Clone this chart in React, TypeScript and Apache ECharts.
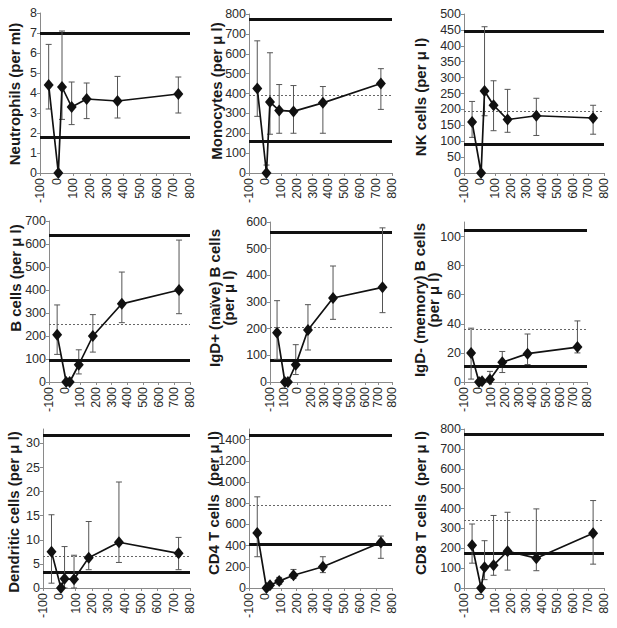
import React, { useEffect, useRef } from "react";
import * as echarts from "echarts";

// Days of sampling (x values)
const days = [-48, 10, 32, 90, 180, 365, 730];

const xTickLabels = ["-100", "0", "100", "200", "300", "400", "500", "600", "700", "800"];
const xTickLabelsIgdPlus = ["-100", "100", "0", "200", "300", "400", "500", "600", "700", "800"];

// Panel values
const neutroMean = [4.4, 0, 4.3, 3.3, 3.7, 3.6, 3.95];
const neutroLow = [3.2, 0, 2.68, 2.42, 2.72, 2.75, 3.0];
const neutroHigh = [6.43, 0, 7.1, 4.55, 4.5, 4.83, 4.8];
const neutroRef = [7.0, 1.8];

const monoMean = [425, 0, 357, 315, 310, 353, 450];
const monoLow = [285, 0, 195, 200, 200, 200, 320];
const monoHigh = [665, 40, 605, 445, 440, 435, 525];
const monoRef = [775, 160];
const monoDotted = 393;

const nkMean = [160, 0, 258, 213, 168, 180, 173];
const nkLow = [112, 0, 180, 133, 128, 118, 122];
const nkHigh = [225, 0, 460, 290, 263, 235, 213];
const nkRef = [447, 90];
const nkDotted = 193;

const bMean = [205, 0, 0, 75, 200, 340, 400];
const bLow = [120, 0, 0, 35, 130, 258, 297];
const bHigh = [335, 0, 0, 140, 293, 478, 617];
const bRef = [640, 95];
const bDotted = 253;

const igdPlusMean = [185, 0, 0, 65, 195, 315, 355];
const igdPlusLow = [85, 0, 0, 28, 120, 235, 260];
const igdPlusHigh = [305, 0, 0, 140, 290, 435, 578];
const igdPlusRef = [562, 80];
const igdPlusDotted = 205;

const igdMinusMean = [20, 0, 0.5, 1.8, 13.5, 19.5, 24];
const igdMinusLow = [2, 0, 0, 0, 6.5, 12, 20];
const igdMinusHigh = [37, 0, 0, 7.3, 21, 33, 42];
const igdMinusRef = [104, 11];
const igdMinusDotted = 36;

const dcMean = [7.5, 0, 1.9, 1.8, 6.3, 9.5, 7.2];
const dcLow = [1, 0, 0, 0, 3.8, 5.3, 3.8];
const dcHigh = [15.2, 0, 8.6, 6.8, 13.8, 22, 10.5];
const dcRef = [31.6, 3.2];
const dcDotted = 6.5;

const cd4Mean = [520, 0, 25, 65, 120, 200, 430];
const cd4Low = [295, 0, 0, 35, 90, 145, 280];
const cd4High = [860, 0, 40, 100, 175, 295, 490];
const cd4Ref = [1441, 414];
const cd4Dotted = 783;

const cd8Mean = [215, 0, 105, 115, 185, 150, 275];
const cd8Low = [125, 0, 42, 64, 90, 87, 120];
const cd8High = [322, 0, 238, 365, 381, 398, 440];
const cd8Ref = [775, 174];
const cd8Dotted = 341;

type Panel = {
  title: string;
  tx: number;
  ty: number;
  grid: { left: number; top: number; right: number; bottom: number };
  yMax: number;
  yInterval: number;
  mean: number[];
  low: number[];
  high: number[];
  ref: number[];
  dotted?: number;
  xLabels: string[];
};

const panels: Panel[] = [
  { title: "Neutrophils (per ml)", tx: 14.5, ty: 94, grid: { left: 40, top: 13, right: 190, bottom: 173 }, yMax: 8, yInterval: 1, mean: neutroMean, low: neutroLow, high: neutroHigh, ref: neutroRef, xLabels: xTickLabels },
  { title: "Monocytes (per μ l)", tx: 216, ty: 91, grid: { left: 249, top: 14, right: 392, bottom: 173 }, yMax: 800, yInterval: 100, mean: monoMean, low: monoLow, high: monoHigh, ref: monoRef, dotted: monoDotted, xLabels: xTickLabels },
  { title: "NK cells (per μ l)", tx: 420.5, ty: 97, grid: { left: 464, top: 14, right: 604, bottom: 173 }, yMax: 500, yInterval: 50, mean: nkMean, low: nkLow, high: nkHigh, ref: nkRef, dotted: nkDotted, xLabels: xTickLabels },
  { title: "B cells (per μ l)", tx: 15, ty: 278, grid: { left: 49, top: 221, right: 190, bottom: 382 }, yMax: 700, yInterval: 100, mean: bMean, low: bLow, high: bHigh, ref: bRef, dotted: bDotted, xLabels: xTickLabels },
  { title: "IgD+ (naïve) B cells\n(per μ l)", tx: 221.5, ty: 298, grid: { left: 270, top: 222, right: 392, bottom: 382 }, yMax: 600, yInterval: 100, mean: igdPlusMean, low: igdPlusLow, high: igdPlusHigh, ref: igdPlusRef, dotted: igdPlusDotted, xLabels: xTickLabelsIgdPlus },
  { title: "IgD- (memory) B cells\n(per μ l)", tx: 426, ty: 300, grid: { left: 464, top: 222, right: 587, bottom: 382 }, yMax: 110, yInterval: 20, mean: igdMinusMean, low: igdMinusLow, high: igdMinusHigh, ref: igdMinusRef, dotted: igdMinusDotted, xLabels: xTickLabels },
  { title: "Dendritic cells (per μ l)", tx: 13.5, ty: 512, grid: { left: 43, top: 429, right: 190, bottom: 588 }, yMax: 33, yInterval: 5, mean: dcMean, low: dcLow, high: dcHigh, ref: dcRef, dotted: dcDotted, xLabels: xTickLabels },
  { title: "CD4 T cells  (per μ l)", tx: 213.5, ty: 503, grid: { left: 249, top: 429, right: 392, bottom: 588 }, yMax: 1500, yInterval: 200, mean: cd4Mean, low: cd4Low, high: cd4High, ref: cd4Ref, dotted: cd4Dotted, xLabels: xTickLabels },
  { title: "CD8 T cells  (per μ l)", tx: 420, ty: 503, grid: { left: 464, top: 429, right: 604, bottom: 588 }, yMax: 800, yInterval: 100, mean: cd8Mean, low: cd8Low, high: cd8High, ref: cd8Ref, dotted: cd8Dotted, xLabels: xTickLabels },
];

const FONT = '"Liberation Sans", Arial, Helvetica, sans-serif';
const AXIS_COLOR = "#8a8a8a";
const LABEL_COLOR = "#2a2a2a";

function buildOption() {
  const grid: any[] = [];
  const xAxis: any[] = [];
  const yAxis: any[] = [];
  const series: any[] = [];
  const graphic: any[] = [];

  panels.forEach((p, i) => {
    grid.push({
      left: p.grid.left,
      top: p.grid.top,
      width: p.grid.right - p.grid.left,
      height: p.grid.bottom - p.grid.top,
      containLabel: false,
    });
    xAxis.push({
      type: "value",
      gridIndex: i,
      min: -100,
      max: 800,
      interval: 100,
      splitLine: { show: false },
      axisLine: { show: true, onZero: false, lineStyle: { color: AXIS_COLOR, width: 1 } },
      axisTick: { show: true, length: 3, inside: false, lineStyle: { color: AXIS_COLOR } },
      axisLabel: {
        rotate: 90,
        margin: 5,
        fontSize: 12.5,
        fontFamily: FONT,
        color: LABEL_COLOR,
        formatter: (v: number) => {
          const idx = Math.round((v + 100) / 100);
          return p.xLabels[idx] ?? "";
        },
      },
    });
    const tickVals: number[] = [];
    for (let v = 0; v <= p.yMax + 1e-9; v += p.yInterval) tickVals.push(Math.round(v * 1000) / 1000);
    yAxis.push({
      type: "value",
      gridIndex: i,
      min: 0,
      max: p.yMax,
      interval: p.yInterval,
      splitLine: { show: false },
      axisLine: { show: true, onZero: false, lineStyle: { color: AXIS_COLOR, width: 1 } },
      axisTick: { show: true, length: 3, lineStyle: { color: AXIS_COLOR }, customValues: tickVals },
      axisLabel: {
        margin: 3,
        fontSize: 12.5,
        fontFamily: FONT,
        color: LABEL_COLOR,
        customValues: tickVals,
        formatter: (v: number) => {
          const r = v / p.yInterval;
          return Math.abs(r - Math.round(r)) < 1e-6 ? String(v) : "";
        },
      },
    });

    // Error bars
    series.push({
      type: "custom",
      xAxisIndex: i,
      yAxisIndex: i,
      z: 2,
      silent: true,
      data: days.map((d, k) => [d, p.low[k], p.high[k]]),
      encode: { x: 0, y: [1, 2] },
      renderItem: (params: any, api: any) => {
        const x = api.value(0);
        const lo = api.value(1);
        const hi = api.value(2);
        if (!(hi - lo > 0)) return { type: "group", children: [] };
        const top = api.coord([x, hi]);
        const bot = api.coord([x, lo]);
        const w = 3;
        const style = { stroke: "#555", lineWidth: 1 };
        return {
          type: "group",
          children: [
            { type: "line", shape: { x1: top[0], y1: top[1], x2: bot[0], y2: bot[1] }, style },
            { type: "line", shape: { x1: top[0] - w, y1: top[1], x2: top[0] + w, y2: top[1] }, style },
            { type: "line", shape: { x1: bot[0] - w, y1: bot[1], x2: bot[0] + w, y2: bot[1] }, style },
          ],
        };
      },
    });

    // Reference lines
    const markData: any[] = p.ref.map((v) => ({
      yAxis: v,
      lineStyle: { color: "#111", width: 3, type: "solid" },
    }));
    if (p.dotted !== undefined) {
      markData.push({ yAxis: p.dotted, lineStyle: { color: "#666", width: 1, type: [2, 2] } });
    }

    series.push({
      type: "line",
      xAxisIndex: i,
      yAxisIndex: i,
      z: 3,
      data: days.map((d, k) => [d, p.mean[k]]),
      symbol: "diamond",
      symbolSize: [10, 12],
      itemStyle: { color: "#111" },
      lineStyle: { color: "#111", width: 1.7 },
      silent: true,
      markLine: {
        silent: true,
        symbol: ["none", "none"],
        label: { show: false },
        z: 1,
        data: markData,
      },
    });

    graphic.push({
      type: "text",
      x: p.tx,
      y: p.ty,
      rotation: Math.PI / 2,
      style: {
        text: p.title,
        font: `bold 15px ${FONT}`,
        fill: "#1a1a1a",
        textAlign: "center",
        textVerticalAlign: "middle",
        lineHeight: 14,
      },
    });
  });

  return {
    animation: false,
    backgroundColor: "#ffffff",
    grid,
    xAxis,
    yAxis,
    series,
    graphic,
  };
}

export default function App() {
  const ref = useRef<HTMLDivElement>(null);
  useEffect(() => {
    if (!ref.current) return;
    const chart = echarts.init(ref.current, undefined, { renderer: "svg" });
    chart.setOption(buildOption() as any);
    return () => {
      chart.dispose();
    };
  }, []);
  return (
    <div
      ref={ref}
      style={{ position: "absolute", left: 0, top: 0, width: 617, height: 628, background: "#fff" }}
    />
  );
}
